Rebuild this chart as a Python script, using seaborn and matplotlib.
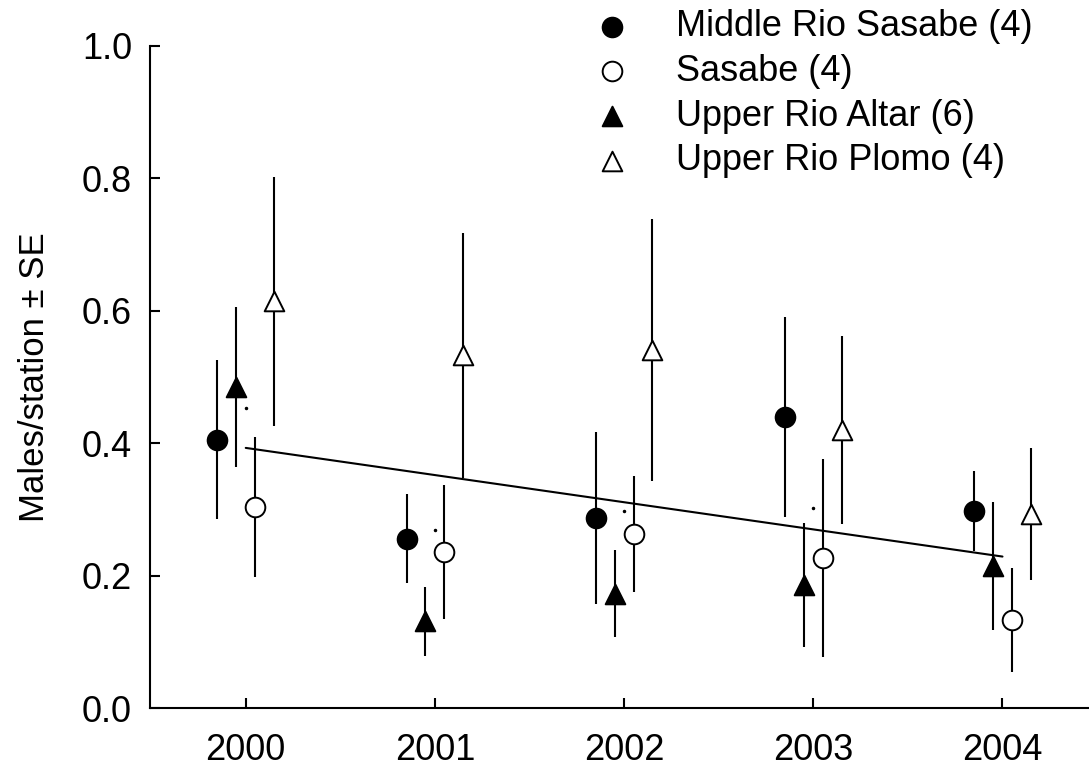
import numpy as np
import pandas as pd
import matplotlib
matplotlib.use("Agg")
import matplotlib.pyplot as plt
import seaborn as sns

# Data: mean males/station and SE per site and year
years = [2000, 2001, 2002, 2003, 2004]

mrs_mean = [0.405, 0.256, 0.287, 0.440, 0.298]
mrs_se = [0.120, 0.067, 0.130, 0.151, 0.060]

ura_mean = [0.485, 0.131, 0.173, 0.186, 0.215]
ura_se = [0.121, 0.052, 0.066, 0.093, 0.097]

sas_mean = [0.304, 0.236, 0.263, 0.227, 0.133]
sas_se = [0.106, 0.101, 0.087, 0.149, 0.078]

urp_mean = [0.614, 0.533, 0.541, 0.420, 0.293]
urp_se = [0.188, 0.185, 0.198, 0.142, 0.100]

# small pooled-mean dots seen at each year
pooled_mean = [0.453, 0.269, 0.298, 0.303, np.nan]

# regression line end points
trend_years = [2000, 2004]
trend_vals = [0.393, 0.229]

series = [
    # label, means, se, offset, marker, face colour
    ("Middle Rio Sasabe (4)", mrs_mean, mrs_se, -0.15, "o", "black"),
    ("Sasabe (4)", sas_mean, sas_se, 0.05, "o", "white"),
    ("Upper Rio Altar (6)", ura_mean, ura_se, -0.05, "^", "black"),
    ("Upper Rio Plomo (4)", urp_mean, urp_se, 0.15, "^", "white"),
]

sns.set_theme(style="ticks")
plt.rcParams["font.family"] = ["Liberation Sans", "DejaVu Sans"]
plt.rcParams["text.color"] = "black"
plt.rcParams["axes.labelcolor"] = "black"

fig = plt.figure(figsize=(10.89, 7.67), dpi=100)
ax = fig.add_axes([150 / 1089, 1 - 708.3 / 767, (1088 - 150) / 1089, (708.3 - 45.7) / 767])

for label, means, se, off, mk, fc in series:
    df = pd.DataFrame({"x": np.array(years) + off, "mean": means, "se": se})
    ax.errorbar(df["x"], df["mean"], yerr=df["se"], fmt="none",
                ecolor="black", elinewidth=1.5, capsize=0, zorder=2)
    sns.scatterplot(data=df, x="x", y="mean", marker=mk, s=200, color=fc,
                    edgecolor="black", linewidth=1.4, zorder=3, label=label, ax=ax)

sns.lineplot(x=trend_years, y=trend_vals, color="black", linewidth=1.5, ax=ax, zorder=1)
ax.plot(years, pooled_mean, linestyle="none", marker="o", markersize=1.5,
        color="black", zorder=1)

ax.set_xlim(1999.494, 2004.452)
ax.set_ylim(0, 1.0)
ax.set_xticks(years)
ax.set_yticks([0.0, 0.2, 0.4, 0.6, 0.8, 1.0])
ax.set_yticklabels(["0.0", "0.2", "0.4", "0.6", "0.8", "1.0"])
ax.set_xlabel("")
ax.set_ylabel("Males/station ± SE", fontsize=25, labelpad=22, color="black")

for side in ["top", "right"]:
    ax.spines[side].set_visible(False)
for side in ["left", "bottom"]:
    ax.spines[side].set_linewidth(1.5)
    ax.spines[side].set_color("black")

ax.tick_params(axis="both", direction="in", length=7, width=1.5,
               labelsize=26, colors="black")
ax.tick_params(axis="x", pad=18)
ax.tick_params(axis="y", pad=13)

ax.legend(loc="upper left", bbox_to_anchor=(594 / 1089, 1 - 9 / 767),
          bbox_transform=fig.transFigure, frameon=False, fontsize=26,
          handlelength=1.0, handletextpad=1.27, labelspacing=0.27,
          borderpad=0, borderaxespad=0, markerscale=1.0, labelcolor="black")

fig.savefig("out.png", dpi=100)
